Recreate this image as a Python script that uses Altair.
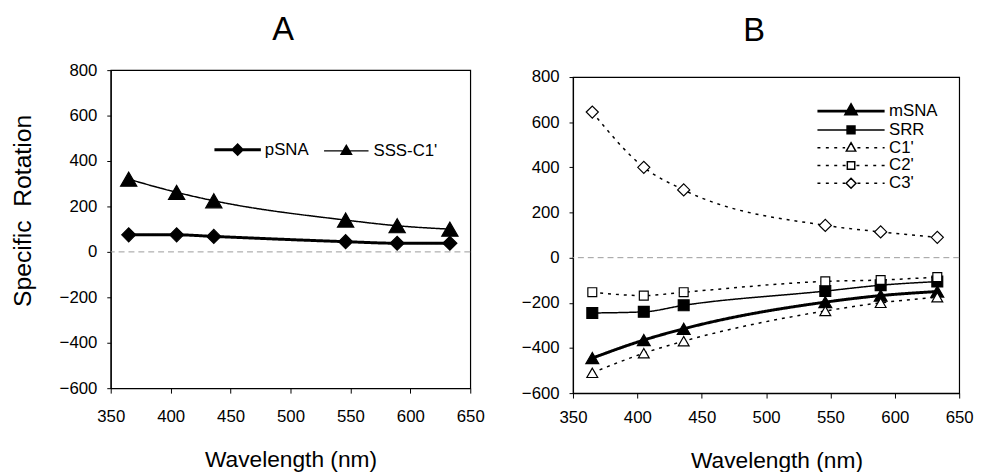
import altair as alt
import pandas as pd

# ---------------- data ----------------
wavelength = [365, 405, 436, 546, 589, 633]

series_a = ["pSNA", "SSS-C1'"]
psna = [75, 75, 68, 45, 38, 38]
sss_c1 = [320, 262, 225, 140, 115, 100]

series_b = ["mSNA", "SRR", "C1'", "C2'", "C3'"]
msna = [-445, -365, -315, -197, -168, -150]
srr = [-245, -240, -211, -148, -122, -106]
c1p = [-510, -423, -370, -236, -200, -175]
c2p = [-153, -168, -153, -105, -99, -86]
c3p = [645, 400, 300, 143, 114, 90]

x_ticks = [350, 400, 450, 500, 550, 600, 650]
y_ticks = [-600, -400, -200, 0, 200, 400, 600, 800]

FONT = "Liberation Sans"


def long_df(names, arrays):
    rows = []
    for n, arr in zip(names, arrays):
        for w, v in zip(wavelength, arr):
            rows.append({"wavelength": w, "value": v, "series": n})
    return pd.DataFrame(rows)


df_a = long_df(series_a, [psna, sss_c1])
df_b = long_df(series_b, [msna, srr, c1p, c2p, c3p])


# ---------------- legend symbol paths (line + marker) ----------------
def dashes(x0, x1, dash=0.6, period=1.7):
    out = []
    x = x0
    while x < x1 - 1e-9:
        e = min(x + dash, x1)
        out.append(f"M{x:.2f},0H{e:.2f}")
        x += period
    return "".join(out)


def seg(h):
    return f"M{-h},0H{h}"


legend_paths_a = [
    seg(4.7) + "M-0.9,0L0,-0.9L0.9,0L0,0.9Z",
    seg(4.5) + "M0,-1.1L1.05,0.7L-1.05,0.7Z",
]
legend_paths_b = [
    seg(6.8) + "M0,-1.2L1.0,0.6L-1.0,0.6Z",
    seg(6.8) + "M-0.8,-0.8H0.8V0.8H-0.8Z",
    dashes(-6.8, -1.2) + dashes(1.3, 6.8) + "M0,-1.0L0.95,0.7L-0.95,0.7Z",
    dashes(-6.8, -1.0) + dashes(1.1, 6.8) + "M-0.75,-0.75H0.75V0.75H-0.75Z",
    dashes(-6.8, -1.2) + dashes(1.3, 6.8) + "M-1.0,0L0,-1.0L1.0,0L0,1.0Z",
]

styles_a = {
    "pSNA": dict(lw=3, dash=[1, 0], shape="diamond", size=200, filled=True),
    "SSS-C1'": dict(lw=1.5, dash=[1, 0], shape="triangle-up", size=270, filled=True),
}
styles_b = {
    "mSNA": dict(lw=3, dash=[1, 0], shape="triangle-up", size=170, filled=True),
    "SRR": dict(lw=1.5, dash=[1, 0], shape="square", size=121, filled=True),
    "C1'": dict(lw=1.5, dash=[3, 5], shape="triangle-up", size=120, filled=False),
    "C2'": dict(lw=1.5, dash=[3, 5], shape="square", size=81, filled=False),
    "C3'": dict(lw=1.5, dash=[3, 5], shape="diamond", size=150, filled=False),
}

FRAME = alt.ViewBackground(stroke="black", strokeWidth=1.2)


def panel(df, names, styles, paths, fills, lws, ytitle, w, h, leg, xlabpad,
          xtitle_x, title=None):
    x = alt.X("wavelength:Q",
              scale=alt.Scale(domain=[350, 650], nice=False, zero=False),
              axis=alt.Axis(values=x_ticks, title="Wavelength (nm)",
                            labelFlush=False, labelPadding=xlabpad,
                            titlePadding=24, titleX=xtitle_x))
    y = alt.Y("value:Q",
              scale=alt.Scale(domain=[-600, 800], nice=False, zero=False),
              axis=alt.Axis(values=y_ticks, title=ytitle, tickSize=4,
                            labelPadding=10, titlePadding=24, titleY=142))
    base = alt.Chart(df)
    zero = alt.Chart(pd.DataFrame({"z": [0]})).mark_rule(
        color="#9a9a9a", strokeDash=[6, 4], strokeWidth=1
    ).encode(y=alt.Y("z:Q", scale=alt.Scale(domain=[-600, 800], nice=False)))
    layers = [zero]
    for n in names:
        s = styles[n]
        layers.append(
            base.transform_filter(alt.datum.series == n).mark_line(
                color="black", strokeWidth=s["lw"], strokeDash=s["dash"],
                interpolate="monotone"
            ).encode(x=x, y=y)
        )
    for n in names:
        s = styles[n]
        layers.append(
            base.transform_filter(alt.datum.series == n).mark_point(
                shape=s["shape"], size=s["size"], color="black",
                filled=s["filled"], fill="black" if s["filled"] else "white",
                stroke="black", strokeWidth=1.2, opacity=1
            ).encode(x=x, y=y)
        )
    # legend carrier layer: no drawable rows, only the legend
    leg_df = pd.DataFrame({"series": names, "wavelength": [None] * len(names),
                           "value": [None] * len(names)})
    legend_layer = alt.Chart(leg_df).mark_point(filled=True, opacity=1).encode(
        x=x, y=y,
        shape=alt.Shape("series:N",
                        scale=alt.Scale(domain=names, range=paths),
                        legend=leg),
        fill=alt.Fill("series:N", scale=alt.Scale(domain=names, range=fills),
                      legend=leg),
        stroke=alt.Stroke("series:N",
                          scale=alt.Scale(domain=names,
                                          range=["black"] * len(names)),
                          legend=leg),
        strokeWidth=alt.StrokeWidth("series:N",
                                    scale=alt.Scale(type="ordinal",
                                                    domain=names, range=lws),
                                    legend=leg),
    )
    layers.append(legend_layer)
    props = dict(width=w, height=h, view=FRAME)
    if title is not None:
        props["title"] = title
    return alt.layer(*layers).properties(**props)


def legend(x, y, direction, label_offset, pad):
    return alt.Legend(
        orient="none", legendX=x, legendY=y, direction=direction, title=None,
        symbolSize=100, labelFont=FONT, labelFontSize=17, labelColor="black",
        labelOffset=label_offset, columnPadding=pad, rowPadding=0, padding=0,
        labelLimit=300, symbolOpacity=1,
    )


leg_a = legend(120, 72, "horizontal", 19, 12)
leg_b = legend(273, 33, "vertical", 30, 0)

title_a = alt.TitleParams("A", fontSize=33, font=FONT, fontWeight="normal",
                          color="black", anchor="middle",
                          baseline="alphabetic", offset=-11, dx=-7.5)
title_b = alt.TitleParams("B", fontSize=33, font=FONT, fontWeight="normal",
                          color="black", anchor="middle",
                          baseline="alphabetic", offset=-6.5, dx=-12)

chart_a = panel(df_a, series_a, styles_a, legend_paths_a,
                ["black", "black"], [3, 1.5],
                "Specific\u00a0 Rotation", 364, 322, leg_a, 16, 182,
                title=title_a)
chart_b = panel(df_b, series_b, styles_b, legend_paths_b,
                ["black", "black", "white", "white", "white"],
                [3, 1.5, 1.5, 1.5, 1.5],
                None, 391, 320, leg_b, 12, 206)

spacer_b = alt.Chart(pd.DataFrame({"d": [0]})).mark_point(opacity=0).encode(
    x=alt.value(0), y=alt.value(0)
).properties(width=391, height=7, title=title_b,
             view=alt.ViewBackground(stroke="transparent"))

right = alt.vconcat(spacer_b, chart_b, spacing=0, bounds="flush")

chart = alt.hconcat(chart_a, right, spacing=104, bounds="flush").resolve_scale(
    shape="independent", fill="independent", stroke="independent",
    strokeWidth="independent"
).properties(
    padding={"left": 2, "top": 2, "right": 0, "bottom": 0}
).configure_axis(
    labelFont=FONT, labelFontSize=17, labelColor="black",
    titleFont=FONT, titleFontSize=23, titleFontWeight="normal",
    titleColor="black", tickColor="black", domainColor="black",
    tickSize=5, grid=False, domainWidth=1.2, tickWidth=1
).configure_axisY(titleFontSize=25)

chart.save("out.html", embed_options={"renderer": "svg", "actions": False})
